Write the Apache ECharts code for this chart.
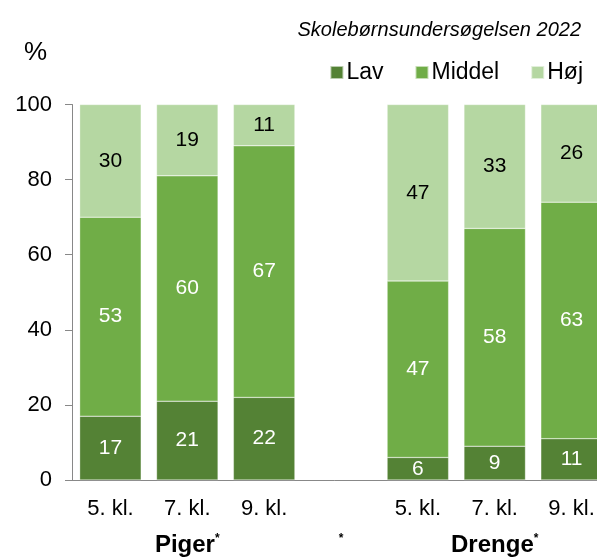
<!DOCTYPE html>
<html>
<head>
<meta charset="utf-8">
<script src="https://cdn.jsdelivr.net/npm/echarts@6/dist/echarts.min.js"></script>
<style>html,body{margin:0;padding:0;background:#fff}#c{width:597px;height:558px}</style>
</head>
<body>
<div id="c"></div>
<script>
const categories = ['5. kl.', '7. kl.', '9. kl.', '', '5. kl.', '7. kl.', '9. kl.'];
const groupLabels = ['', 'Piger*', '', '*', '', 'Drenge*', ''];
const seriesNames = ['Lav', 'Middel', 'Høj'];
const lav = [17, 21, 22, '-', 6, 9, 11];
const middel = [53, 60, 67, '-', 47, 58, 63];
const hoj = [30, 19, 11, '-', 47, 33, 26];
const yTicks = [0, 20, 40, 60, 80, 100];
const titleText = 'Skolebørnsundersøgelsen 2022';
const unitText = '%';

const FONT = '"Liberation Sans", Arial, sans-serif';
const colors = ['#548235', '#70ad47', '#b5d7a2'];
const labelColors = ['#ffffff', '#ffffff', '#000000'];
const values = [lav, middel, hoj];

const chart = echarts.init(document.getElementById('c'), null, {renderer: 'canvas'});
chart.setOption({
  animation: false,
  textStyle: {fontFamily: FONT},
  title: {
    text: titleText,
    right: 11, top: 15,
    textStyle: {fontFamily: FONT, fontStyle: 'italic', fontWeight: 'normal', fontSize: 20, color: '#000'}
  },
  graphic: [{
    type: 'text', left: 24, top: 40,
    style: {text: unitText, font: '26px ' + FONT, fill: '#000'}
  }],
  legend: {
    data: seriesNames,
    right: 9, top: 56,
    itemWidth: 13, itemHeight: 13, itemGap: 31,
    icon: 'rect',
    textStyle: {fontFamily: FONT, fontSize: 23, color: '#000', padding: [0, 0, 0, -2]}
  },
  grid: {left: 72, top: 104.5, width: 538, height: 375.5, containLabel: false, outerBoundsMode: 'none'},
  xAxis: [{
    type: 'category',
    data: categories,
    axisLine: {show: true, lineStyle: {color: '#888888', width: 1}},
    axisTick: {show: false},
    axisLabel: {fontFamily: FONT, fontSize: 22, color: '#000', margin: 18, interval: 0}
  }, {
    type: 'category',
    position: 'bottom',
    data: groupLabels,
    axisLine: {show: false},
    axisTick: {show: false},
    axisLabel: {
      interval: 0, margin: 53,
      formatter: function (v) {
        if (!v) return '';
        const base = v.replace('*', '');
        return (base ? '{b|' + base + '}' : '') + '{s|*}';
      },
      rich: {
        b: {fontFamily: FONT, fontSize: 24, fontWeight: 'bold', color: '#000'},
        s: {fontFamily: FONT, fontSize: 12, fontWeight: 'bold', color: '#000', verticalAlign: 'top', padding: [0, 0, 11, 0]}
      }
    }
  }],
  yAxis: {
    type: 'value',
    min: yTicks[0], max: yTicks[yTicks.length - 1], interval: 20,
    splitLine: {show: false},
    axisLine: {show: true, lineStyle: {color: '#888888', width: 1}},
    axisTick: {show: true, length: 7, lineStyle: {color: '#888888'}},
    axisLabel: {fontFamily: FONT, fontSize: 22, color: '#000', margin: 20}
  },
  series: seriesNames.map((name, i) => ({
    name: name,
    type: 'bar',
    stack: 'total',
    xAxisIndex: 0,
    barCategoryGap: '20%',
    data: values[i],
    itemStyle: {color: colors[i], borderColor: 'rgba(255,255,255,0.6)', borderWidth: 0.5},
    label: {show: true, position: 'inside', fontFamily: FONT, fontSize: 21, color: labelColors[i]}
  }))
});
</script>
</body>
</html>
